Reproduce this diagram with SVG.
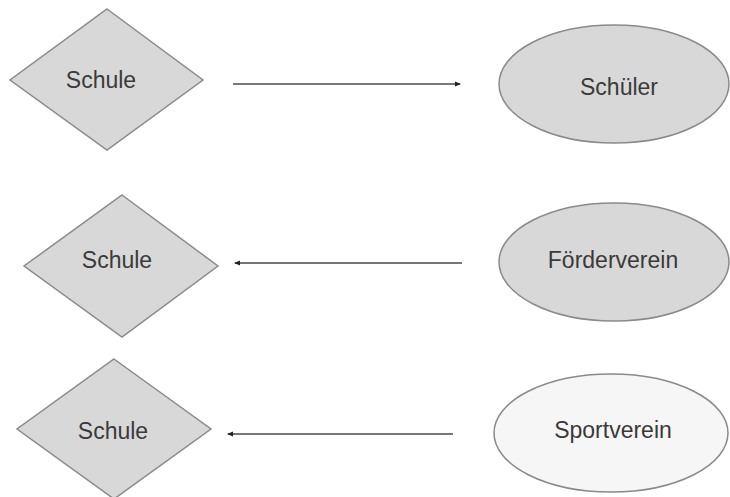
<svg xmlns="http://www.w3.org/2000/svg" width="730" height="497" viewBox="0 0 730 497">
<style>
.shape{fill:#d8d8d8;stroke:#8a8a8a;stroke-width:1.5}
.light{fill:#f6f6f6;stroke:#8a8a8a;stroke-width:1.5}
.lbl{font-family:"Liberation Sans",Arial,sans-serif;font-size:23px;fill:#3a3a3a;text-anchor:middle}
.conn{stroke:#4a4a4a;stroke-width:1.6;fill:none}
</style>
<defs>
<marker id="ah" viewBox="0 0 6 6" refX="5" refY="3" markerWidth="6" markerHeight="6" markerUnits="userSpaceOnUse" orient="auto">
<path d="M0,0.5 L6,3 L0,5.5 Z" fill="#222"/>
</marker>
</defs>
<rect width="730" height="497" fill="#ffffff"/>
<g id="schule1">
<polygon class="shape" points="107,9 203,80 107,150 10,80"/>
<text class="lbl" x="101" y="88">Schule</text>
</g>
<g id="schueler">
<ellipse class="shape" cx="614" cy="84" rx="115" ry="59"/>
<text class="lbl" x="619" y="95">Schüler</text>
</g>
<g id="schule2">
<polygon class="shape" points="122,195 218,266 122,337 24,266"/>
<text class="lbl" x="117" y="268">Schule</text>
</g>
<g id="foerderverein">
<ellipse class="shape" cx="614" cy="262" rx="115" ry="59"/>
<text class="lbl" x="613" y="268">Förderverein</text>
</g>
<g id="schule3">
<polygon class="shape" points="114,359 211,429 114,499 17,429"/>
<text class="lbl" x="113" y="439">Schule</text>
</g>
<g id="sportverein">
<ellipse class="light" cx="611" cy="433" rx="117" ry="59"/>
<text class="lbl" x="613" y="438">Sportverein</text>
</g>
<g id="connectors">
<line class="conn" x1="233" y1="84" x2="460" y2="84" marker-end="url(#ah)"/>
<line class="conn" x1="462" y1="263" x2="235" y2="263" marker-end="url(#ah)"/>
<line class="conn" x1="453" y1="434" x2="228" y2="434" marker-end="url(#ah)"/>
</g>
</svg>
